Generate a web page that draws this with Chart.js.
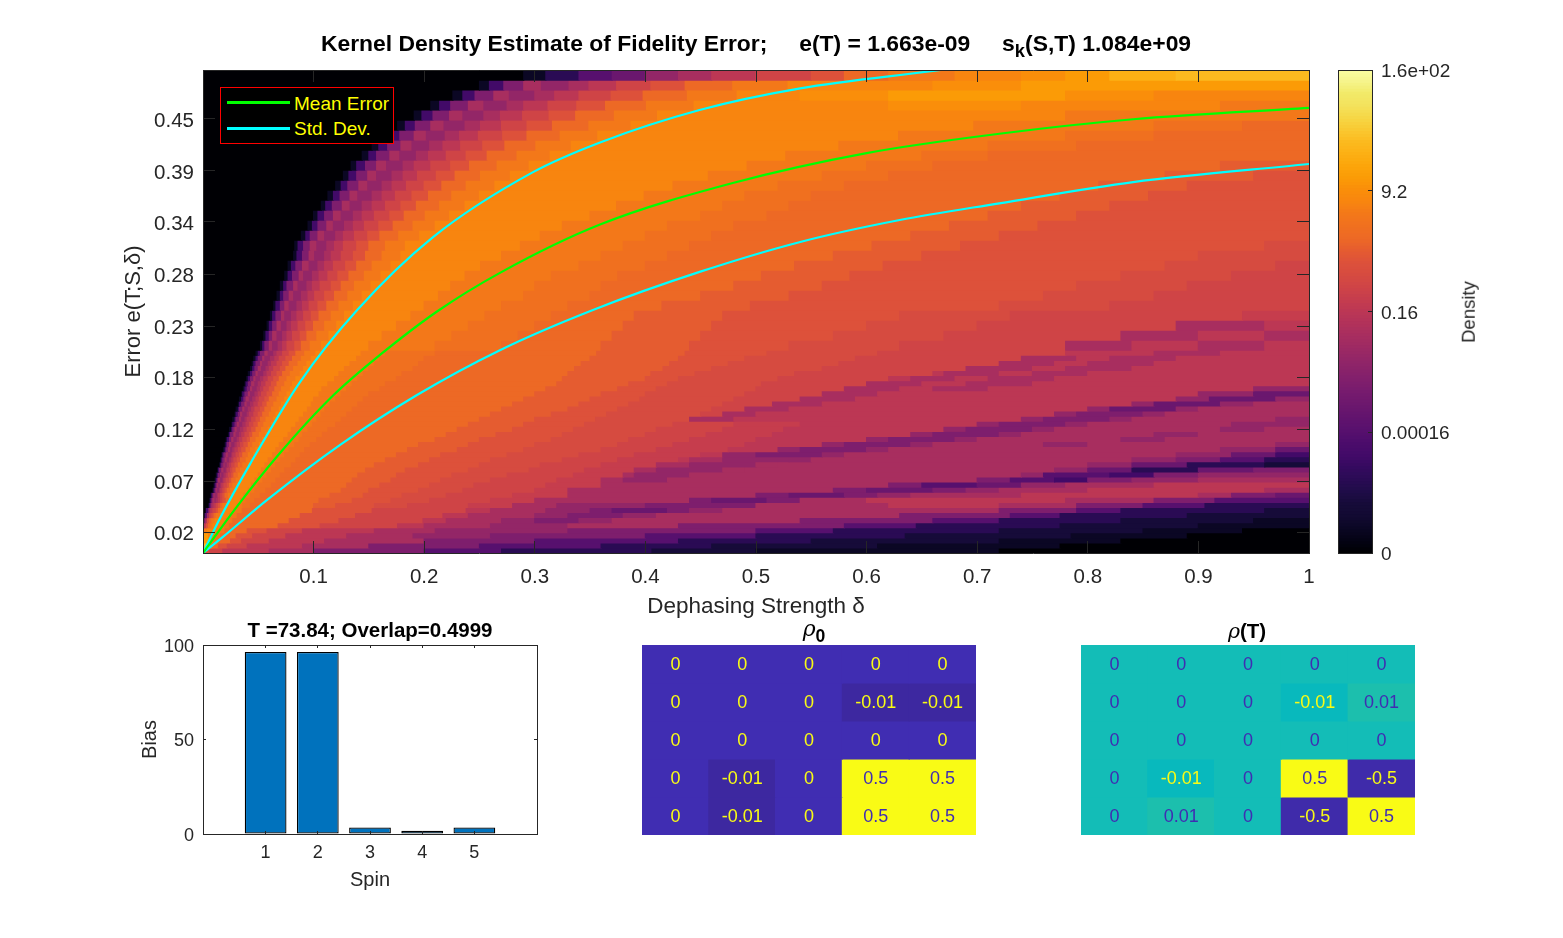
<!DOCTYPE html>
<html>
<head>
<meta charset="utf-8">
<script src="https://cdn.jsdelivr.net/npm/chart.js@4"></script>
<style>
html,body{margin:0;padding:0;background:#fff;width:1563px;height:938px;overflow:hidden;font-family:"Liberation Sans",Arial,sans-serif}
canvas{position:absolute}
.t{position:absolute;white-space:pre;color:#000;font-weight:bold;transform:translateX(-50%);line-height:1}
.t sub{font-size:.8em;line-height:0;vertical-align:-0.35em}
.t i{font-family:"DejaVu Serif",serif;font-weight:normal}
#density{position:absolute;left:1469px;top:312px;transform:translate(-50%,-50%) rotate(-90deg);color:#262626;font-size:18.5px;line-height:1;white-space:pre}
#legend{position:absolute;left:220px;top:87px;width:172px;height:55px;background:#000;border:1px solid #f00}
#legend .l{position:absolute;left:6px;width:63px;height:3px}
#legend .n{position:absolute;left:73px;color:#ff0;font-size:19px;line-height:1;white-space:pre}
</style>
</head>
<body>
<canvas id="main"></canvas>
<canvas id="bar"></canvas>
<canvas id="cbar"></canvas>
<canvas id="rho0"></canvas>
<canvas id="rhoT"></canvas>
<div class="t" style="left:756px;top:32px;font-size:22.9px">Kernel Density Estimate of Fidelity Error;     e(T) = 1.663e-09     s<sub>k</sub>(S,T) 1.084e+09</div>
<div class="t" style="left:814px;top:618px;font-size:22px"><i>ρ</i><sub>0</sub></div>
<div class="t" style="left:1247px;top:621px;font-size:20.5px"><i>ρ</i>(T)</div>
<div id="density">Density</div>
<div id="legend">
  <div class="l" style="top:13px;background:#0f0"></div><div class="n" style="top:6px">Mean Error</div>
  <div class="l" style="top:39px;background:#0ff"></div><div class="n" style="top:31px">Std. Dev.</div>
</div>
<script>
// ---------- data ----------
const infernoStops = ["#000004","#040315","#0b0724","#120a32","#160b39","#1f0c48","#2a0b54","#340a5f","#420a68","#4b0c6b","#57106e","#60136e","#6a176e","#741a6e","#7e1e6d","#88226a","#932667","#9e2a63","#a82e5f","#b2325a","#bc3754","#c63d4d","#cf4446","#d64b40","#dd513a","#e55c30","#ed6925","#f0701f","#f37819","#f8850f","#fa8e0a","#fb9b06","#fca50a","#fcb014","#fbba1f","#f9c932","#f6d746","#f3e25d","#f2ea69","#f6f48c","#fcffa4"];
const levelStop = {"0":0,"1":2,"2":4,"3":6,"4":8,"5":10,"6":12,"7":14,"8":16,"9":18,A:20,a:21,B:22,b:23,C:24,c:25,D:26,d:27,E:28,F:29,f:30,G:31,g:33,H:34};
// rows of the density image, top to bottom; each token is a level letter followed by the x where that level ends
const yEdges = [.5,.4896,.4793,.4689,.4586,.4482,.4378,.4275,.4171,.4068,.3964,.3860,.3757,.3653,.3550,.3446,.3342,.3239,.3135,.3032,.2928,.2824,.2721,.2617,.2514,.2410,.2306,.2203,.21,
 .20475,.1995,.19425,.189,.18375,.1785,.17325,.168,.16275,.1575,.15225,.147,.14175,.1365,.13125,.126,.12075,.1155,.11025,.105,.09975,.0945,.08925,.084,.07875,.0735,.06825,.063,.05775,.0525,.04725,.042,.03675,.0315,.02625,.021,.01575,.0105,.00525,0];
const densityRuns = [
"0.29 1.31 3.34 5.37 6.40 8.43 9.46 A.50 B.55 C.58 D.62 E.68 F.74 f.78 G.82 g.88 H1",
"0.25 1.259 4.272 7.29 9.306 8.331 9.349 A.374 B.405 C.436 D.479 E.529 F.66 f.74 G1",
"0.226 1.235 4.246 7.263 9.277 8.30 9.318 A.34 B.369 C.398 D.438 E.483 F.54 f.62 G.78 f.86 F1",
"0.206 1.214 4.224 7.24 9.254 8.275 9.29 A.312 B.338 C.364 D.401 E.444 F.62 f.74 F.92 E1",
"0.191 1.198 4.208 7.223 9.235 8.254 9.269 A.289 B.313 C.337 D.372 E.411 F.78 E1",
"0.176 1.183 4.192 7.206 9.218 8.237 9.251 A.27 B.293 C.316 D.349 E.387 F.697 E.86 d.94 D1",
"0.163 1.169 4.178 7.191 9.202 8.219 9.232 A.249 B.271 C.293 D.323 E.357 F.629 E.78 d.86 D1",
"0.153 1.159 4.167 7.179 9.189 8.205 9.217 A.233 B.253 C.273 D.301 E.333 F.575 E.71 d.79 D1",
"0.144 1.15 4.157 7.169 9.178 8.193 9.204 A.22 B.238 C.257 D.284 E.314 F.527 E.65 d.71 D1",
"0.134 1.139 4.147 7.157 9.166 8.181 9.191 A.206 B.224 C.241 D.266 E.295 F.492 E.6 d.66 D.92 c1",
"0.127 1.132 4.139 7.149 9.157 8.171 9.181 A.194 B.211 C.228 D.251 E.278 F.457 E.56 d.62 D.87 c.95 C1",
"0.12 1.125 4.131 7.141 9.149 8.162 9.171 A.184 B.2 C.216 D.238 E.264 F.425 E.52 d.58 D.81 c.89 C1",
"0.113 1.118 4.124 7.133 9.14 8.153 9.162 A.174 B.189 C.204 D.225 E.25 F.399 E.49 d.55 D.775 c.855 C1",
"0.107 1.111 4.117 7.126 9.133 8.144 9.153 A.165 B.179 C.193 D.214 E.237 F.374 E.47 d.53 D.74 c.82 C1",
"0.1 1.104 4.11 7.118 9.125 8.136 9.144 A.155 B.169 C.182 D.201 E.223 F.35 E.45 d.51 D.71 c.79 C1",
"0.095 1.099 4.104 7.112 9.118 8.128 9.136 A.146 B.159 C.172 D.19 E.21 F.325 E.42 d.48 D.675 c.755 C1",
"0.089 1.093 4.097 7.104 9.11 8.12 9.127 A.137 B.149 C.16 D.177 E.196 F.305 E.4 d.46 D.64 c.72 C1",
"0.083 1.086 4.091 7.097 9.103 8.112 9.119 A.127 B.139 C.15 D.165 E.183 F.287 E.38 d.44 D.605 c.685 C.96 b1",
"0.082 1.085 4.09 7.096 9.101 8.11 9.116 A.125 B.136 C.147 D.162 E.179 F.27 E.36 d.42 D.57 c.65 C.9 b1",
"0.077 1.08 4.084 7.09 9.096 8.104 9.11 A.118 B.129 C.139 D.153 E.17 F.251 E.34 d.4 D.535 c.615 C.87 b.97 B1",
"0.074 1.077 4.081 7.087 9.091 8.099 9.105 A.113 B.122 C.132 D.146 E.161 F.237 E.315 d.375 D.505 c.585 C.83 b.93 B1",
"0.07 1.073 4.076 7.082 9.086 8.094 9.099 A.106 B.116 C.125 D.137 E.152 F.224 E.3 d.36 D.48 c.56 C.79 b.89 B1",
"0.067 1.07 4.073 7.078 9.082 8.089 9.095 A.101 B.11 C.119 D.131 E.144 F.213 E.29 d.35 D.45 c.53 C.76 b.86 B1",
"0.064 1.066 4.07 7.074 9.078 8.085 9.09 A.096 B.104 C.112 D.123 E.136 F.2 E.27 d.33 D.415 c.495 C.72 b.82 B1",
"0.061 1.063 4.066 7.071 9.074 8.08 9.085 A.091 B.098 C.105 D.116 E.128 F.188 E.255 d.315 D.39 c.47 C.63 b.73 B.94 a1",
"0.058 1.06 4.063 7.067 9.071 8.076 9.08 A.086 B.093 C.1 D.11 E.121 F.175 E.24 d.3 D.38 c.46 C.6 b.7 B.88 9.96 A1",
"0.055 1.057 4.06 7.063 9.067 8.072 9.076 A.081 B.088 C.094 D.103 E.114 F.162 E.225 d.285 D.37 c.45 C.57 b.67 B.83 9.9 A.96 91",
"0.052 1.054 4.056 7.06 9.063 8.068 9.072 A.076 B.083 C.089 D.097 E.107 F.15 E.21 d.27 D.36 c.44 C.53 b.63 B.78 9.84 A.9 9.96 A1",
"0.048 1.05 4.052 7.056 9.059 8.064 9.067 A.072 B.078 C.084 D.092 E.102 F.143 E.165 d.21 D.356 c.436 C.51 b.61 B.78 A.86 9.92 A1",
"0.046 1.048 4.05 7.054 9.056 8.061 9.065 A.069 B.075 C.081 D.089 E.098 F.139 E.16 d.2 D.35 c.43 C.49 b.59 B.74 9.79 A.82 9.88 A1",
"0.0445 1.046 4.048 7.052 9.054 8.059 9.062 A.067 B.072 C.078 D.086 E.094 F.133 E.155 d.195 D.342 c.422 C.475 b.575 B.72 9.77 A.8 9.86 A1",
"0.043 1.045 4.047 7.05 9.053 8.057 9.06 A.064 B.07 C.075 D.082 E.091 F.128 E.15 d.19 D.336 c.416 C.46 b.56 B.69 9.75 A.78 9.84 A1",
"0.041 1.043 4.045 7.048 9.05 8.055 9.058 A.062 B.067 C.072 D.079 E.088 F.123 E.145 d.18 D.33 c.405 C.445 b.535 B.66 A.67 9.72 A.75 9.8 A1",
"0.0395 1.041 4.043 7.046 9.048 8.052 9.055 A.059 B.064 C.069 D.076 E.084 F.119 E.14 d.175 D.325 c.4 C.43 b.52 B.62 A.64 9.68 A.71 9.77 A1",
"0.038 1.039 4.041 7.044 9.047 8.05 9.053 A.057 B.062 C.067 D.074 E.081 F.113 E.135 d.165 D.32 c.385 C.42 b.505 B.6 9.65 A.69 9.75 A1",
"0.0365 1.038 4.04 7.043 9.045 8.049 9.052 A.055 B.06 C.065 D.071 E.079 F.1075 E.13 d.16 D.31 c.375 C.41 b.5 B.58 9.63 A.66 9.71 A.95 81",
"0.035 1.036 4.038 7.041 9.043 8.047 9.05 A.053 B.058 C.063 D.069 E.076 F.105 E.125 d.15 D.3 c.36 C.4 b.49 B.56 9.61 A.9 8.95 61",
"0.033 1.035 4.037 7.039 9.042 8.045 9.048 A.051 B.056 C.06 D.067 E.074 F.1 E.12 d.145 D.29 c.35 C.395 b.48 B.54 9.59 A.88 8.91 6.97 81",
"0.032 1.033 4.035 7.038 9.04 8.043 9.046 A.05 B.054 C.058 D.064 E.071 F.098 E.115 d.14 D.28 c.34 C.385 b.47 B.515 9.56 A.84 8.86 6.92 8.95 91",
"0.03 1.032 4.033 7.036 9.038 8.041 9.044 A.047 B.052 C.056 D.062 E.069 F.0945 E.11 d.135 D.27 c.33 C.375 b.46 B.49 9.53 A.8 8.82 6.88 8.9 91",
"0.029 1.03 4.032 7.034 9.036 8.04 9.042 A.046 B.05 C.054 D.06 E.066 F.091 E.107 d.13 D.26 c.315 C.365 b.45 B.47 9.5 A.77 8.79 7.85 8.87 91",
"0.027 1.029 4.03 7.033 9.035 8.038 9.04 A.044 B.048 C.052 D.057 E.064 F.087 E.103 d.125 D.25 c.3 C.355 b.44 9.48 A.74 8.76 7.82 8.84 9.97 81",
"0.026 1.027 4.029 7.031 9.033 8.036 9.039 A.042 B.046 C.05 D.055 E.062 F.084 E.099 d.12 D.24 c.29 C.345 b.425 B.48 a.54 A.7 8.72 7.78 8.8 9.93 81",
"0.024 1.026 4.027 7.029 9.031 8.034 9.037 A.04 B.044 C.048 D.053 E.059 F.08 E.095 d.113 D.23 c.28 C.335 b.41 B.47 a.525 A.67 8.69 7.75 8.77 9.92 8.96 91",
"0.023 1.024 4.025 7.028 9.03 8.033 9.035 A.038 B.042 C.045 D.051 E.057 F.077 E.09 d.108 D.22 c.265 C.325 b.4 B.455 a.515 A.64 8.66 7.72 8.74 9.86 8.9 91",
"0.021 1.022 4.024 7.026 9.028 8.031 9.033 A.036 B.04 C.043 D.048 E.054 F.073 E.087 d.103 D.21 c.25 C.315 b.385 B.44 a.5 A.6 8.62 7.68 8.7 9.83 8.87 91",
"0.02 1.021 4.022 7.024 9.026 8.029 9.031 A.034 B.037 C.041 D.045 E.051 F.069 E.083 d.097 D.195 c.24 C.3 b.375 B.425 a.49 A.56 8.58 7.64 8.66 9.76 8.8 9.97 81",
"0.0185 1.02 4.021 7.023 9.025 8.027 9.029 A.032 B.035 C.039 D.043 E.048 F.066 E.078 d.092 D.185 c.23 C.29 b.36 B.41 a.475 A.52 8.54 7.6 8.62 9.92 8.97 61",
"0.017 1.018 4.019 7.021 9.023 8.026 9.027 A.03 B.033 C.036 D.041 E.046 F.063 E.074 d.088 D.175 c.215 C.275 b.34 B.39 a.45 A.47 8.5 7.56 8.58 9.88 8.93 6.97 41",
"0.016 1.017 4.018 7.02 9.022 8.024 9.026 A.028 B.031 C.034 D.039 E.044 F.059 E.07 d.084 D.165 c.205 C.26 b.325 B.375 a.43 A.44 9.47 8.53 8.55 9.84 8.88 7.92 5.96 31",
"0.015 1.016 4.017 7.019 9.02 8.022 9.024 A.026 B.029 C.032 D.036 E.041 F.056 E.066 d.08 D.155 c.195 C.25 b.305 B.36 a.41 9.44 8.5 9.52 9.8 8.84 6.89 3.96 21",
"0.0135 1.014 4.015 7.017 9.019 8.021 9.022 A.025 B.027 C.03 D.034 E.039 F.053 E.062 d.074 D.147 c.183 C.24 b.295 B.345 a.39 9.41 8.47 9.49 9.77 8.8 6.84 3.9 6.95 71",
"0.012 1.013 4.014 7.016 9.017 8.019 9.021 A.023 B.026 C.028 D.032 E.036 F.05 E.058 d.07 D.14 c.175 C.225 b.275 B.335 a.38 9.39 8.44 9.74 8.76 5.82 4.86 7.9 81",
"0.011 1.012 4.013 7.014 9.016 8.018 9.019 A.021 B.024 C.026 D.03 E.034 F.047 E.054 d.066 D.135 c.17 C.215 b.26 B.32 a.36 9.38 8.42 9.7 7.73 5.77 4.8 7.84 8.9 91",
"0.01 1.011 4.012 7.013 9.014 8.016 9.017 A.019 B.022 C.024 D.027 E.031 F.044 E.05 d.062 D.13 c.16 C.205 b.245 B.31 a.36 9.62 7.65 5.7 6.74 8.78 9.86 A1",
"0.009 1.01 4.011 7.012 9.013 8.015 9.016 A.018 B.02 C.022 D.025 E.029 F.041 E.047 d.057 D.125 c.15 C.195 b.235 B.3 a.33 9.57 7.6 6.66 7.69 8.72 9.8 A.96 91",
"0.007 1.008 4.009 7.01 9.011 8.013 9.014 A.016 B.018 C.02 D.023 E.026 F.037 E.043 d.052 D.115 c.145 C.18 b.22 B.28 a.33 9.5 7.53 6.58 7.61 8.64 9.74 A.9 9.93 7.97 61",
"0.006 1.007 4.008 7.009 9.011 8.012 9.014 A.016 B.018 C.021 D.024 F.034 E.039 d.047 D.105 c.135 C.17 b.205 B.26 a.3 9.44 7.46 6.51 7.54 9.6 A.78 9.86 7.915 51",
"0.005 1.006 4.007 7.008 9.01 A.012 B.014 C.016 D.018 E.021 F.031 E.036 d.043 D.1 c.12 C.155 b.185 B.24 a.28 9.32 8.4 7.47 7.5 9.62 A.72 9.79 7.85 5.906 31",
"0.003 4.005 7.006 9.007 A.009 B.012 C.014 D.016 E.019 F.028 E.0355 D.099 C.153 B.238 A.26 9.31 8.35 7.37 6.42 7.44 8.47 9.72 7.79 5.83 3.96 21",
"0.002 5.004 9.006 B.008 C.01 D.012 E.016 F.024 E.031 D.088 C.138 B.217 A.24 9.3 8.33 7.38 8.41 9.63 7.73 5.775 3.89 21",
"5.002 9.004 C.006 D.008 E.011 F.021 E.027 D.078 C.123 B.199 A.22 9.27 8.3 7.34 8.37 9.54 7.66 5.72 3.83 2.95 11",
"7.001 A.003 C.005 D.007 E.009 F.0195 E.024 D.068 C.106 B.176 A.2 9.26 8.33 9.43 7.58 5.645 3.775 2.9 11",
"E.004 F.016 E.02 D.04 C.058 B.09 A.155 9.21 8.33 7.5 5.57 3.72 2.85 1.94 01",
"G.005 F.012 E.016 D.03 C.045 B.075 A.13 9.19 8.26 7.4 5.5 3.635 2.785 1.89 01",
"G.006 F.01 E.014 D.025 C.035 B.06 A.11 9.2 7.3 5.43 3.55 2.72 1.83 01",
"H.005 F.008 D.014 C.022 B.04 A.09 9.15 7.25 5.36 3.46 2.61 1.775 01",
"F.002 C.006 B.018 A.06 9.1 7.2 5.27 3.406 2.5 1.72 01"
];
const meanCurve = [[0,0],[.03,.047],[.07,.104],[.1176,.163],[.16,.205],[.2116,.25],[.2685,.29],[.359,.34],[.479,.383],[.6,.414],[.72,.434],[.841,.449],[1,.4607]];
const upperCurve = [[0,0],[.0154,.036],[.0425,.092],[.0877,.177],[.139,.251],[.208,.327],[.298,.394],[.359,.425],[.449,.4586],[.54,.481],[.66,.499],[.68,.502]];
const lowerCurve = [[0,0],[.018,.0166],[.058,.055],[.124,.112],[.1935,.1636],[.2685,.21],[.3526,.2516],[.449,.291],[.54,.322],[.63,.3447],[.72,.362],[.841,.384],[1,.4027]];
const xTickValues = [.1,.2,.3,.4,.5,.6,.7,.8,.9,1];
const xTickLabels = ["0.1","0.2","0.3","0.4","0.5","0.6","0.7","0.8","0.9","1"];
const yTickValues = [.0214,.0743,.1282,.1821,.2349,.2888,.3427,.3955,.4493];
const yTickLabels = ["0.02","0.07","0.12","0.18","0.23","0.28","0.34","0.39","0.45"];
const cbarTickValues = [0,.25,.5,.75,1];
const cbarTickLabels = ["0","0.00016","0.16","9.2","1.6e+02"];
const spins = [1,2,3,4,5];
const bias = [96.3,96.3,3.5,1.7,3.5];
const biasTicks = [0,50,100];
const rho0Labels = [["0","0","0","0","0"],["0","0","0","-0.01","-0.01"],["0","0","0","0","0"],["0","-0.01","0","0.5","0.5"],["0","-0.01","0","0.5","0.5"]];
const rhoTLabels = [["0","0","0","0","0"],["0","0","0","-0.01","0.01"],["0","0","0","0","0"],["0","-0.01","0","0.5","-0.5"],["0","0.01","0","-0.5","0.5"]];
const rho0Fill = {"0":"#402db2","-0.01":"#3d28a0","0.5":"#f9fb15"};
const rho0Ink  = {"0":"#f9fb15","-0.01":"#f9fb15","0.5":"#402db2"};
const rhoTFill = {"0":"#13bdb7","-0.01":"#08b9bd","0.01":"#1cbfad","0.5":"#f9fb15","-0.5":"#3f2baa"};
const rhoTInk  = {"0":"#402db2","-0.01":"#f9fb15","0.01":"#402db2","0.5":"#402db2","-0.5":"#f9fb15"};

// ---------- helpers ----------
const INK = "#262626", FONT = "'Liberation Sans'";
function frame(id, r){ const c=document.getElementById(id); c.width=r.w; c.height=r.h; c.style.left=r.l+"px"; c.style.top=r.t+"px"; return c; }
const fit = (prop,v) => s => { s[prop]=v; };
function fixedTicks(vals,labs){ return { afterBuildTicks:a=>{a.ticks=vals.map(v=>({value:v}));}, cb:(v,i)=>labs[i] }; }
function axis(pos,min,max,size,vals,labs,tick,fontSize,pad,title){
  const horiz = pos==="top"||pos==="bottom";
  const f = vals?fixedTicks(vals,labs||vals.map(String)):null;
  return { type:"linear", position:pos, min, max, offset:false, display:true,
    afterFit:fit(horiz?"height":"width",size),
    afterBuildTicks:f?f.afterBuildTicks:(a=>{a.ticks=[];}),
    border:{display:true,color:INK,width:1,z:3},
    grid:{drawOnChartArea:false,drawTicks:true,tickLength:-tick,color:INK,tickColor:INK,z:2,offset:false},
    ticks:{display:!!labs,autoSkip:false,maxRotation:0,minRotation:0,color:INK,padding:pad+tick,labelOffset:horiz?0:2,font:{family:FONT,size:fontSize},callback:f?f.cb:(()=>"")},
    title:title||{display:false} };
}
const base = { responsive:false, animation:false, devicePixelRatio:1, events:[], plugins:{legend:{display:false},tooltip:{enabled:false}} };
const hex = h=>[1,3,5].map(i=>parseInt(h.substr(i,2),16));
const cbarColors = infernoStops.slice(0,-1).flatMap((h,i)=>{const a=hex(h),b=hex(infernoStops[i+1]);
  return [0,.25,.5,.75].map(m=>"rgb("+a.map((v,k)=>Math.round(v+(b[k]-v)*m)).join(",")+")");});

// ---------- main heat map ----------
const heatSets = densityRuns.map((row,r)=>{
  const h = yEdges[r]-yEdges[r+1], yc = yEdges[r+1]+h/2;
  let start = 0; const data=[], colors=[];
  row.split(" ").forEach(tok=>{
    const end = parseFloat(tok.slice(1));
    data.push({y:yc,x:[start,end]});
    colors.push(infernoStops[levelStop[tok[0]]]);
    start = end;
  });
  return { type:"bar", indexAxis:"y", order:2, grouped:false, categoryPercentage:1, barPercentage:h/0.00525, inflateAmount:.6, borderWidth:0, data, backgroundColor:colors };
});
const curve = (pts,col)=>({type:"line",order:0,data:pts.map(p=>({x:p[0],y:p[1]})),borderColor:col,borderWidth:2.2,pointRadius:0,cubicInterpolationMode:"monotone",fill:false});
new Chart(frame("main",{l:100,t:30,w:1240,h:590}),{
  type:"bar",
  data:{datasets:[...heatSets,curve(meanCurve,"#00ff00"),curve(upperCurve,"#00ffff"),curve(lowerCurve,"#00ffff")]},
  options:{...base,layout:{padding:{left:0,top:40,right:31,bottom:0}},
    scales:{
      x:axis("bottom",0,1,67,xTickValues,xTickLabels,12,20.5,12,{display:true,text:"Dephasing Strength δ",color:INK,font:{family:FONT,size:22.5},padding:0}),
      xt:axis("top",0,1,0,xTickValues,null,12,20,0),
      y:axis("left",0,.5,103,yTickValues,yTickLabels,12,20.5,9,{display:true,text:"Error e(T;S,δ)",color:INK,font:{family:FONT,size:22},padding:21}),
      yr:axis("right",0,.5,0,yTickValues,null,12,20,0)
    }}
});

// ---------- colour bar ----------
new Chart(frame("cbar",{l:1330,t:40,w:180,h:543}),{
  type:"bar",
  data:{datasets:[{grouped:false,categoryPercentage:1,barPercentage:1,inflateAmount:.6,borderWidth:0,
    data:cbarColors.map((c,i)=>({x:.5,y:[i/cbarColors.length,(i+1)/cbarColors.length]})),
    backgroundColor:cbarColors}]},
  options:{...base,layout:{padding:{left:0,top:30,right:0,bottom:0}},
    scales:{
      x:axis("bottom",0,1,30,null,null,0,19,0),
      xt:axis("top",0,1,0,null,null,0,19,0),
      yl:axis("left",0,1,8,null,null,0,19,0),
      y:axis("right",0,1,138,cbarTickValues,cbarTickLabels,4,19,9)
    }}
});

// ---------- bias bars ----------
new Chart(frame("bar",{l:130,t:615,w:420,h:285}),{
  type:"bar",
  data:{datasets:[{grouped:false,categoryPercentage:1,barPercentage:.8,borderWidth:1.3,borderSkipped:false,borderColor:"#000",backgroundColor:"#0072bd",inflateAmount:0,
    data:spins.map((s,i)=>({x:s,y:bias[i]}))}]},
  options:{...base,layout:{padding:{left:0,top:30,right:13,bottom:0}},
    scales:{
      x:axis("bottom",-.2,6.2,66,spins,spins.map(String),3,18,8,{display:true,text:"Spin",color:INK,font:{family:FONT,size:20},padding:8}),
      xt:axis("top",-.2,6.2,0,spins,null,3,18,0),
      y:axis("left",0,100,73,biasTicks,biasTicks.map(String),3,18,9,{display:true,text:"Bias",color:INK,font:{family:FONT,size:20},padding:8}),
      yr:axis("right",0,100,0,biasTicks,null,3,18,0)
    }},
  plugins:[{id:"biasTitle",afterDraw(ch){const g=ch.ctx;g.save();g.font="bold 20.5px "+FONT;g.fillStyle="#000";g.textAlign="center";g.textBaseline="middle";
    g.fillText("T =73.84; Overlap=0.4999",(ch.chartArea.left+ch.chartArea.right)/2,ch.chartArea.top-14);g.restore();}}]
});

// ---------- density matrices ----------
function matrix(id,rect,labels,fill,ink){
  new Chart(frame(id,rect),{
    type:"bar",
    data:{datasets:labels.map((row,r)=>({grouped:false,categoryPercentage:1,barPercentage:1,inflateAmount:.6,borderWidth:0,
      data:row.map((s,c)=>({x:c+.5,y:[r,r+1]})),backgroundColor:row.map(s=>fill[s])}))},
    options:{...base,layout:{padding:0},
      scales:{x:{type:"linear",min:0,max:5,offset:false,display:false},y:{type:"linear",min:0,max:5,reverse:true,display:false}}},
    plugins:[{id:"cellText",afterDatasetsDraw(ch){const g=ch.ctx;g.save();g.font="18px "+FONT;g.textAlign="center";g.textBaseline="middle";
      labels.forEach((row,r)=>row.forEach((s,c)=>{g.fillStyle=ink[s];g.fillText(s,ch.scales.x.getPixelForValue(c+.5),ch.scales.y.getPixelForValue(r+.5)+1.5);}));g.restore();}}]
  });
}
matrix("rho0",{l:642,t:645,w:334,h:190},rho0Labels,rho0Fill,rho0Ink);
matrix("rhoT",{l:1081,t:645,w:334,h:190},rhoTLabels,rhoTFill,rhoTInk);
</script>
</body>
</html>
